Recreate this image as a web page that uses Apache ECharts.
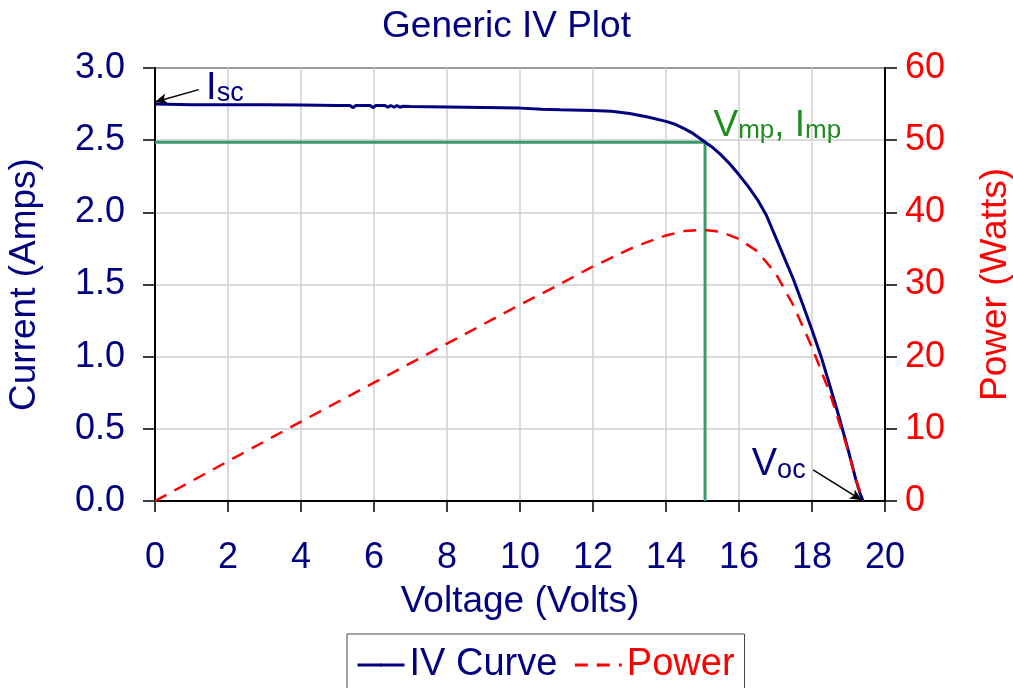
<!DOCTYPE html>
<html>
<head>
<meta charset="utf-8">
<script src="https://cdn.jsdelivr.net/npm/echarts@6/dist/echarts.min.js"></script>
<style>
  html, body { margin: 0; padding: 0; background: #fff; }
  #chart { width: 1013px; height: 688px; }
</style>
</head>
<body>
<div id="chart"></div>
<script>
// IV curve: [volts, amps]
const ivCurve = [
  [0, 2.75], [1, 2.745], [2, 2.745], [3, 2.745], [4, 2.743], [5, 2.74],
  [5.35, 2.74], [5.42, 2.725], [5.5, 2.74], [5.9, 2.74], [5.97, 2.725],
  [6.05, 2.74], [6.3, 2.74], [6.38, 2.728], [6.46, 2.74], [6.55, 2.728],
  [6.63, 2.74], [6.71, 2.728], [6.8, 2.735], [7, 2.733], [8, 2.73],
  [9, 2.727], [10, 2.722], [10.6, 2.715], [11.1, 2.71], [12, 2.705],
  [12.5, 2.7], [13, 2.685], [13.5, 2.66], [14, 2.63], [14.25, 2.61],
  [14.5, 2.58], [14.75, 2.545], [15, 2.5], [15.25, 2.455], [15.5, 2.4],
  [15.75, 2.335], [16, 2.26], [16.25, 2.18], [16.5, 2.09], [16.75, 1.98],
  [17, 1.83], [17.25, 1.68], [17.5, 1.53], [17.75, 1.36], [18, 1.185],
  [18.25, 1.0], [18.5, 0.79], [18.75, 0.575], [19, 0.345], [19.2, 0.15],
  [19.32, 0.05], [19.4, 0]
];

// power curve: [volts, watts]
const powerCurve = [
  [0, 0], [2, 5.5], [4, 11], [6, 16.4], [8, 21.8], [10, 27.2], [11, 29.8],
  [12, 32.5], [12.5, 33.7], [13, 34.9], [13.5, 35.9], [14, 36.8],
  [14.5, 37.4], [15, 37.6], [15.5, 37.3], [16, 36.3], [16.5, 34.6],
  [17, 31.6], [17.5, 27.0], [18, 21.3], [18.5, 14.8], [19, 6.8],
  [19.2, 3.0], [19.4, 0]
];

// max power point
const vmp = 15.07;
const imp = 2.485;
const mppLines = [[0, imp], [vmp, imp], [vmp, 0]];

const voltTicks = [0, 20, 2];
const ampTicks = [0, 3, 0.5];
const wattTicks = [0, 60, 10];

const navy = '#000080';
const red = '#ff0000';
const green = '#3a9a6a';
const textGreen = '#1f8c1f';
const font = 'Liberation Sans, Arial, sans-serif';

const chart = echarts.init(document.querySelector('#chart'));

const option = {
  animation: false,
  title: {
    text: 'Generic IV Plot',
    left: 'center',
    top: 3,
    textStyle: { fontSize: 37, fontWeight: 'normal', color: navy, fontFamily: font }
  },
  legend: {
    data: [
      { name: 'IV Curve', textStyle: { color: navy } },
      { name: 'Power', textStyle: { color: red } }
    ],
    left: 347,
    top: 634,
    padding: [12, 10, 20, 9],
    itemWidth: 47,
    itemHeight: 4,
    itemGap: 16,
    borderColor: '#444',
    borderWidth: 1,
    lineStyle: { width: 3 },
    textStyle: { fontSize: 38, fontFamily: font }
  },
  grid: {
    left: 155, right: 128, top: 68, bottom: 187,
    containLabel: false,
    outerBoundsMode: 'none',
    show: true, borderColor: '#000', borderWidth: 2
  },
  xAxis: {
    type: 'value',
    min: voltTicks[0], max: voltTicks[1], interval: voltTicks[2],
    name: 'Voltage (Volts)',
    nameLocation: 'middle',
    nameGap: 82,
    nameTextStyle: { fontSize: 37, color: navy, fontFamily: font },
    axisLine: { lineStyle: { color: '#000', width: 2 } },
    axisTick: { length: 11, lineStyle: { color: '#000', width: 1.5 } },
    axisLabel: { fontSize: 36, color: navy, fontFamily: font, margin: 39 },
    splitLine: { lineStyle: { color: '#cfcfcf', width: 1.5 } }
  },
  yAxis: [
    {
      type: 'value',
      min: ampTicks[0], max: ampTicks[1], interval: ampTicks[2],
      name: 'Current (Amps)',
      nameLocation: 'middle',
      nameGap: 112,
      nameTextStyle: { fontSize: 37, color: navy, fontFamily: font },
      axisLine: { show: true, lineStyle: { color: '#000', width: 2 } },
      axisTick: { show: true, length: 12, lineStyle: { color: '#000', width: 1.5 } },
      axisLabel: { fontSize: 36, color: navy, fontFamily: font, margin: 30,
        formatter: (v) => v.toFixed(1) },
      splitLine: { lineStyle: { color: '#cfcfcf', width: 1.5 } }
    },
    {
      type: 'value',
      position: 'right',
      min: wattTicks[0], max: wattTicks[1], interval: wattTicks[2],
      name: 'Power (Watts)',
      nameLocation: 'middle',
      nameGap: 92,
      nameTextStyle: { fontSize: 37, color: red, fontFamily: font },
      axisLine: { show: true, lineStyle: { color: '#000', width: 2 } },
      axisTick: { show: true, length: 12, lineStyle: { color: '#000', width: 1.5 } },
      axisLabel: { fontSize: 36, color: red, fontFamily: font, margin: 20 },
      splitLine: { show: false }
    }
  ],
  series: [
    {
      name: 'mpp',
      type: 'line',
      data: mppLines,
      symbol: 'none',
      silent: true,
      lineStyle: { color: green, width: 3 },
      itemStyle: { color: green },
      markPoint: {
        symbol: 'circle',
        symbolSize: 0,
        silent: true,
        label: {
          show: true,
          position: 'right',
          distance: 0,
          rich: {
            a: { fontSize: 37, color: textGreen, fontFamily: font, verticalAlign: 'bottom' },
            b: { fontSize: 26, color: textGreen, fontFamily: font, verticalAlign: 'bottom' }
          }
        },
        data: [{ coord: [15.3, 2.6], value: 0, label: { formatter: '{a|V}{b|mp}{a|, I}{b|mp}' } }]
      }
    },
    {
      name: 'IV Curve',
      type: 'line',
      data: ivCurve,
      symbol: 'none',
      lineStyle: { color: navy, width: 3 },
      itemStyle: { color: navy },
      markLine: {
        silent: true,
        symbol: ['none', 'arrow'],
        symbolSize: [8, 12],
        label: { show: false },
        lineStyle: { color: '#000', width: 1.5, type: 'solid' },
        data: [
          [{ coord: [1.2, 2.85] }, { coord: [0, 2.765] }],
          [{ coord: [18.03, 0.215] }, { coord: [19.37, 0.005] }]
        ]
      },
      markPoint: {
        symbol: 'circle',
        symbolSize: 0,
        silent: true,
        label: {
          show: true,
          position: 'right',
          distance: 0,
          rich: {
            a: { fontSize: 38, color: navy, fontFamily: font, verticalAlign: 'bottom' },
            b: { fontSize: 27, color: navy, fontFamily: font, verticalAlign: 'bottom' }
          }
        },
        data: [
          { coord: [1.4, 2.86], value: 0, label: { formatter: '{a|I}{b|sc}' } },
          { coord: [16.35, 0.25], value: 0, label: { formatter: '{a|V}{b|oc}' } }
        ]
      }
    },
    {
      name: 'Power',
      type: 'line',
      yAxisIndex: 1,
      data: powerCurve,
      symbol: 'none',
      lineStyle: { color: red, width: 2.5, type: [13, 9] },
      itemStyle: { color: red }
    }
  ]
};

chart.setOption(option);
</script>
</body>
</html>
